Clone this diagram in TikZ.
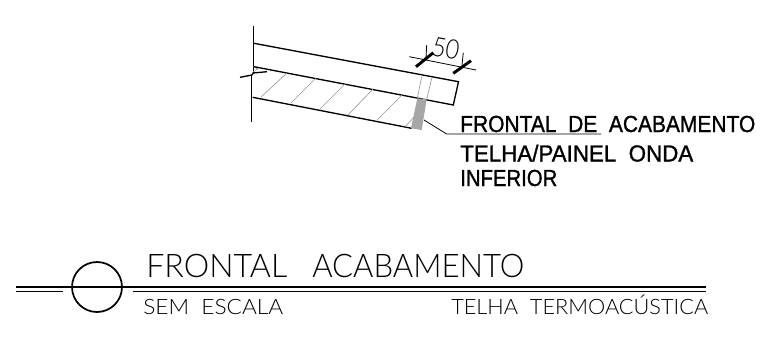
\documentclass[tikz,border=0pt]{standalone}
\usepackage{fontspec}
\usepackage{graphicx}
\newfontfamily\leaderfont[FakeBold=1.2]{Liberation Sans}
\newfontfamily\cadfont{Lato Light}
\tikzset{
  px/.style={x=0.75pt,y=-0.75pt},
  heavy/.style={line width=1pt},
  thin line/.style={line width=0.6pt},
  faint/.style={line width=0.5pt,color=black!40},
  thick tick/.style={line width=2.2pt},
  cadtext/.style={inner sep=0pt,anchor=base west,font=\cadfont},
  notetext/.style={inner sep=0pt,anchor=base west,font=\leaderfont}
}
% width and cap height in px of the reference
\newcommand{\fitbox}[3]{\resizebox{#1\dimexpr0.75pt\relax}{#2\dimexpr0.75pt\relax}{\raisebox{0pt}[\fontcharht\font`T][0pt]{#3}}}
\begin{document}
\begin{tikzpicture}[px]
  \useasboundingbox (0,0) rectangle (763,337);
  % wall
  \draw[heavy] (253.3,26) -- (253.3,73);
  \draw[heavy] (251.7,76) -- (251.7,121.5);
  \draw[heavy] (240,77.3) -- (252,75) -- (253,73) -- (267,71.7);
  \draw[faint] (253.3,66.7) -- (258,69) -- (253.3,71.7);
  % panel
  \draw[heavy] (254,43.3) -- (458.5,81.7) -- (453.3,105) -- (254,66.7);
  \draw[heavy] (252.7,97.3) -- (411.7,128.3);
  \fill[black!35] (417.3,98.3) -- (426.7,99.3) -- (421.7,130) -- (411,128.3) -- cycle;
  \draw[faint] (421.7,76.7) -- (417.3,98.3) (431.7,78.3) -- (426.7,99.3);
  % hatch
  \foreach \xa/\ya/\xb/\yb in {287/73/261/97, 316/78/291/103, 345/84/320/109, 373/89/348/115, 402/95/377/120, 414/117/405/127}
    \draw[faint] (\xa,\ya) -- (\xb,\yb);
  % dimension
  \coordinate (dimA) at (409.3,56.7);
  \coordinate (dimB) at (476,70);
  \draw[thin line] (dimA) -- (dimB);
  \draw[thin line] (426.7,45) -- (426,58);
  \draw[thin line] (463.3,52.7) -- (462,65);
  \draw[thick tick] (416,66.7) -- (433.3,52.7);
  \draw[thick tick] (453.3,73.3) -- (471,60.7);
  \node (dimlabel) [cadtext,anchor=center,rotate=-11] at (446,48.5) {\fitbox{27}{19}{50}};
  % leader
  \coordinate (leadA) at (424,120);
  \coordinate (leadB) at (446.7,134);
  \coordinate (leadC) at (601,134);
  \draw[thin line] (leadA) -- (leadB) -- (leadC);
  \node (frontal) [notetext] at (460,132) {\fitbox{295}{16}{FRONTAL\ \ DE\ \ ACABAMENTO}};
  \node (telha) [notetext] at (460,161.5) {\fitbox{233}{16}{TELHA/PAINEL\ \ ONDA}};
  \node (inferior) [notetext] at (460,186) {\fitbox{97}{16}{INFERIOR}};
  % title bar
  \draw[line width=1.5pt] (16,287) -- (706,287);
  \draw[thin line] (16,291) -- (63,291) (133,291) -- (706,291);
  \node (mark) [draw,circle,line width=1.3pt,minimum size=37.5pt,inner sep=0pt] at (97,287) {};
  \node (title) [cadtext] at (146,277.5) {\fitbox{141}{23}{FRONTAL}\hspace{18.75pt}\fitbox{212}{23}{ACABAMENTO}};
  \node (scale) [cadtext] at (143,314) {\fitbox{140}{15}{SEM\ \ ESCALA}};
  \node (kind) [cadtext] at (451,314) {\fitbox{257}{15}{TELHA\ \ TERMOACÚSTICA}};
\end{tikzpicture}
\end{document}
